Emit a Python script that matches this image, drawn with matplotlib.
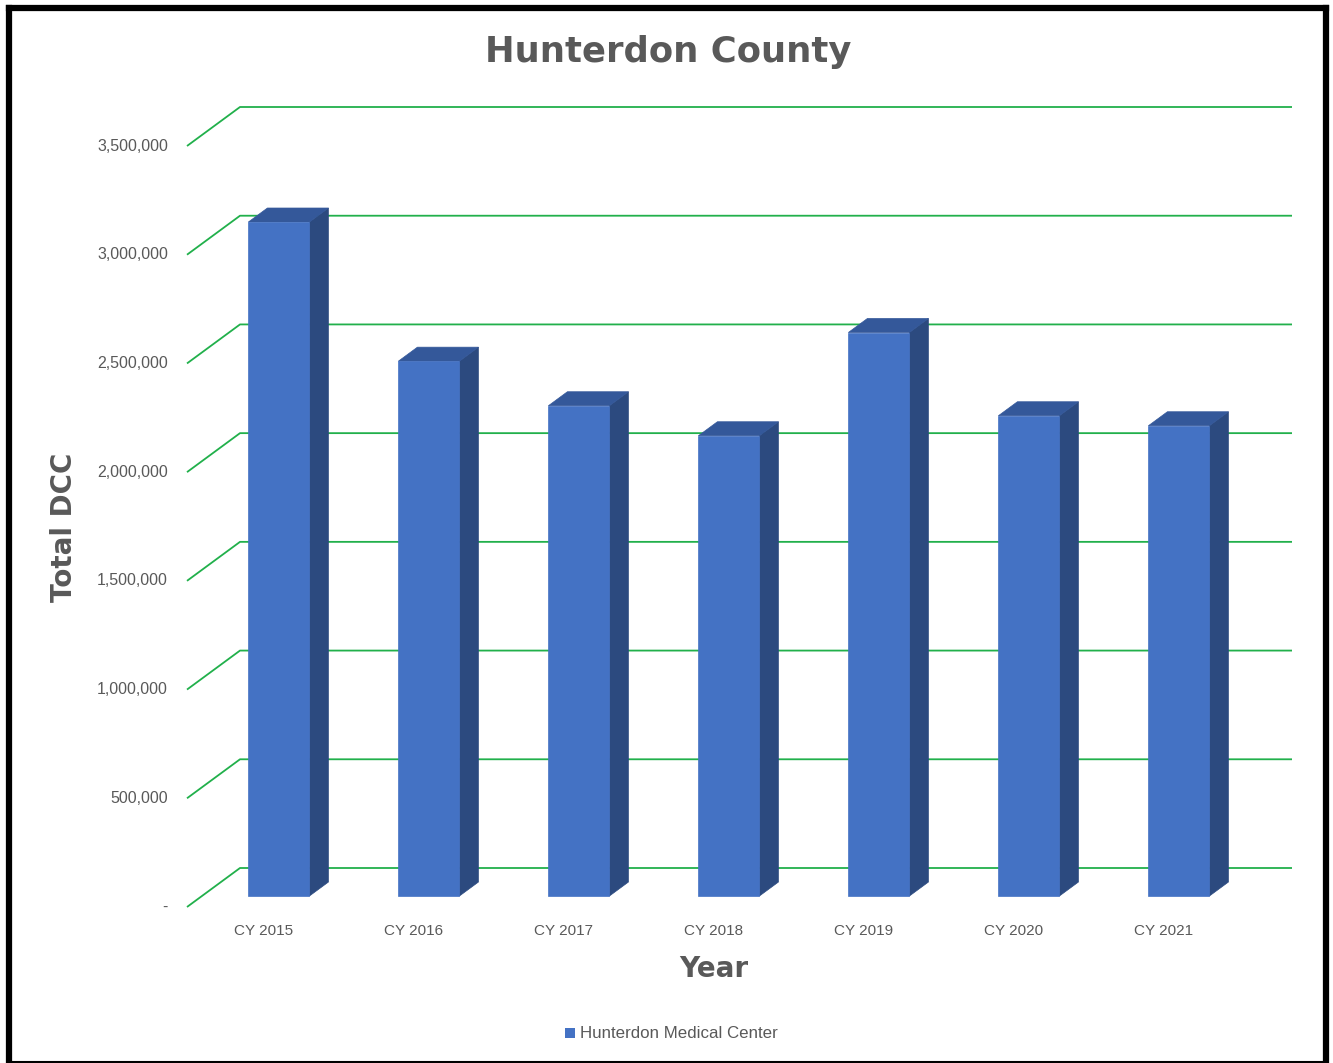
import matplotlib
matplotlib.use("Agg")
import matplotlib.pyplot as plt
from matplotlib.patches import Polygon, Rectangle
from matplotlib.lines import Line2D
import numpy as np

categories = ["CY 2015", "CY 2016", "CY 2017", "CY 2018", "CY 2019", "CY 2020", "CY 2021"]
values = [3100000, 2460000, 2255000, 2117000, 2592000, 2209000, 2163000]
series_name = "Hunterdon Medical Center"
yticks = [0, 500000, 1000000, 1500000, 2000000, 2500000, 3000000, 3500000]
ytick_labels = ["-", "500,000", "1,000,000", "1,500,000", "2,000,000", "2,500,000", "3,000,000", "3,500,000"]

W, H = 1333, 1063
fig = plt.figure(figsize=(W / 100, H / 100), dpi=100)
fig.patch.set_facecolor("white")

# frame (thick left/top/right, thin bottom)
def fline(xs, ys, lw):
    fig.add_artist(Line2D([x / W for x in xs], [1 - y / H for y in ys], transform=fig.transFigure,
                          color="black", linewidth=lw, solid_capstyle="projecting"))
fline([9, 9], [8, 1063], 4.5)
fline([9, 1326], [8, 8], 4.5)
fline([1326, 1326], [8, 1063], 4.5)
fline([9, 1326], [1062, 1062], 1.5)

# axes in front plane: x 187..1239 px, y 146..907 px
left_px, right_px, top_px, bot_px = 187, 1239, 146, 907
ax = fig.add_axes([left_px / W, (H - bot_px) / H, (right_px - left_px) / W, (bot_px - top_px) / H])
ax.set_xlim(-77 / 150, 6.5)
ax.set_ylim(0, 3500000)
ax.axis("off")

px_x = 150.0  # pixels per category
px_y = 761.0 / 3500000  # pixels per unit value

def dx(p):
    return p / px_x

def dy(p):
    return p / px_y

# depth offsets
back_dx, back_dy = dx(53), dy(39)
x_l, x_r = ax.get_xlim()
for v in yticks:
    ax.plot([x_l, x_l + back_dx, x_r + back_dx], [v, v + back_dy, v + back_dy],
            color="#21B04B", linewidth=1.3, clip_on=False, zorder=1, solid_capstyle="butt")

# tick labels
tick_color = "#595959"
for v, lab in zip(yticks, ytick_labels):
    ax.text(x_l - dx(19), v, lab, ha="right", va="center", fontsize=11.5, color=tick_color,
            family="Liberation Sans", clip_on=False)

for i, c in enumerate(categories):
    ax.text(i, -dy(24), c, ha="center", va="center", fontsize=11, color=tick_color,
            family="Liberation Sans", clip_on=False)

# bars
f1 = 0.28
f2 = 0.64
w = 61 / 150.0
front_col = "#4472C4"
side_col = "#2C4A7F"
top_col = "#34589A"
ox1, oy1 = back_dx * f1, back_dy * f1
ox2, oy2 = back_dx * f2, back_dy * f2
xs = np.arange(len(categories))
for i, v in zip(xs, values):
    x0 = i - w / 2 + ox1
    x1 = i + w / 2 + ox1
    b0 = oy1
    t0 = v + oy1
    ddx, ddy = ox2 - ox1, oy2 - oy1
    side = Polygon([(x1, b0), (x1 + ddx, b0 + ddy), (x1 + ddx, t0 + ddy), (x1, t0)],
                   closed=True, facecolor=side_col, edgecolor=side_col, linewidth=0.5, zorder=3, clip_on=False)
    top = Polygon([(x0, t0), (x0 + ddx, t0 + ddy), (x1 + ddx, t0 + ddy), (x1, t0)],
                  closed=True, facecolor=top_col, edgecolor=top_col, linewidth=0.5, zorder=3, clip_on=False)
    ax.add_patch(side)
    ax.add_patch(top)
ax.bar(xs + ox1, values, width=w, bottom=oy1, color=front_col, edgecolor=front_col, linewidth=0.5,
       zorder=4, clip_on=False, label=series_name)

# title and axis labels
fig.text(668 / W, 1 - 52 / H, "Hunterdon County", ha="center", va="center", fontsize=25.5,
         fontweight="heavy", color="#595959", family="DejaVu Sans")
fig.text(64 / W, 1 - 527 / H, "Total DCC", ha="center", va="center", rotation=90, fontsize=20,
         fontweight="heavy", color="#595959", family="DejaVu Sans")
fig.text(714 / W, 1 - 969 / H, "Year", ha="center", va="center", fontsize=20,
         fontweight="heavy", color="#595959", family="DejaVu Sans")

# legend
fig.add_artist(Rectangle((565 / W, 1 - 1038 / H), 10 / W, 10 / H, transform=fig.transFigure,
                         facecolor=front_col, edgecolor="none"))
fig.text(580 / W, 1 - 1033 / H, series_name, ha="left", va="center", fontsize=12.2, color=tick_color,
         family="Liberation Sans")

fig.savefig("out.png", dpi=100, facecolor="white")
